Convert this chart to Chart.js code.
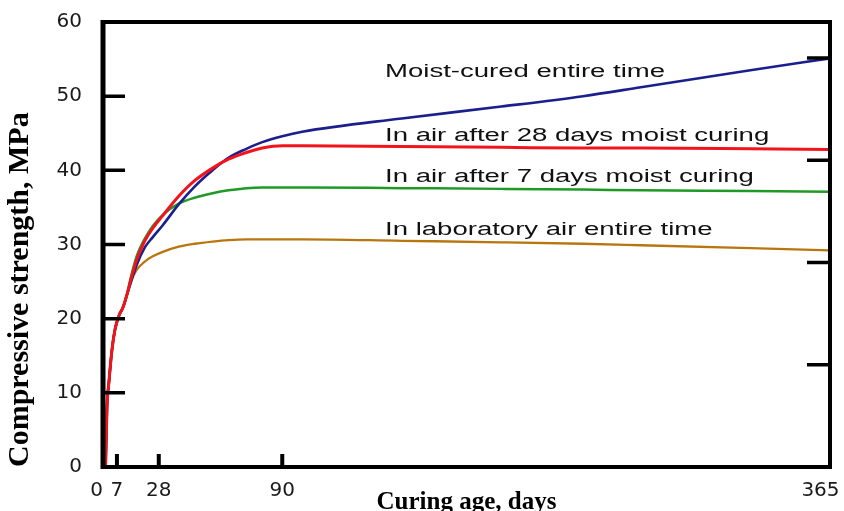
<!DOCTYPE html>
<html>
<head>
<meta charset="utf-8">
<title>Compressive strength vs. curing age</title>
<script src="https://cdn.jsdelivr.net/npm/chart.js@4.4.1/dist/chart.umd.min.js"></script>
<style>
    html, body { margin: 0; padding: 0; background: #fff; overflow: hidden; }
    #wrap { width: 844px; height: 511px; overflow: hidden; }
</style>
</head>
<body>
<div id="wrap"><canvas id="strengthChart" width="844" height="530"></canvas></div>
<script>
// Values: curing age (days) and strength (MPa)
const curingDays = [1.3, 2, 3, 4.5, 6, 8, 10, 12, 14, 17, 21, 25, 30, 38, 46, 55, 63, 72, 80, 90, 100, 150, 200, 241, 270, 325, 365];
const moistCured = [0, 8, 11.5, 15.8, 18.5, 20.4, 21.5, 23.2, 24.9, 27.3, 29.6, 31.0, 32.6, 35.4, 37.8, 40.0, 41.7, 42.9, 43.8, 44.6, 45.2, 47.0, 48.6, 50.0, 51.2, 53.5, 55.1];
const airAfter28 = [0, 8, 11.5, 15.8, 18.5, 20.4, 21.5, 23.2, 25.3, 28.0, 30.5, 32.2, 33.9, 36.5, 38.6, 40.3, 41.5, 42.4, 43.0, 43.3, 43.3, 43.2, 43.1, 43.0, 43.0, 42.9, 42.8];
const airAfter7 = [0, 8, 11.5, 15.8, 18.5, 20.4, 21.5, 23.2, 25.6, 28.5, 30.8, 32.5, 34.0, 35.5, 36.3, 36.9, 37.3, 37.6, 37.7, 37.7, 37.7, 37.6, 37.5, 37.4, 37.3, 37.2, 37.1];
const labAir = [0, 8, 11.5, 15.8, 18.5, 20.4, 21.5, 23.2, 25.0, 26.6, 27.7, 28.4, 29.0, 29.7, 30.1, 30.4, 30.6, 30.7, 30.7, 30.7, 30.7, 30.5, 30.3, 30.1, 29.9, 29.5, 29.2];

const xTickDays = [0, 7, 28, 90, 365];
const psiTicks = [2000, 4000, 6000, 8000]; // unlabelled ticks on the right axis
const curveNames = [
    'Moist-cured entire time',
    'In air after 28 days moist curing',
    'In air after 7 days moist curing',
    'In laboratory air entire time'
];

const MPA_TO_PSI = 145.038;

function toPoints(values) {
    return curingDays.map((d, i) => ({ x: d, y: values[i] }));
}

// Box around the plot plus short inward tick marks
const framePlugin = {
    id: 'frame',
    afterDatasetsDraw(chart) {
        const { ctx, chartArea: a, scales } = chart;
        ctx.save();
        ctx.strokeStyle = '#000';
        ctx.lineCap = 'butt';

        ctx.lineWidth = 4;
        ctx.strokeRect(a.left, a.top, a.right - a.left, a.bottom - a.top);
        ctx.lineWidth = 5;
        ctx.beginPath();
        ctx.moveTo(a.left, a.top - 2);
        ctx.lineTo(a.left, a.bottom + 2);
        ctx.stroke();

        ctx.lineWidth = 3.5;
        ctx.beginPath();
        scales.y.ticks.forEach(t => {
            if (t.value <= scales.y.min || t.value >= scales.y.max) return;
            const py = scales.y.getPixelForValue(t.value);
            ctx.moveTo(a.left, py);
            ctx.lineTo(a.left + 22, py);
        });
        scales.y2.ticks.forEach(t => {
            const py = scales.y2.getPixelForValue(t.value);
            ctx.moveTo(a.right, py);
            ctx.lineTo(a.right - 23, py);
        });
        ctx.stroke();

        ctx.lineWidth = 4;
        ctx.beginPath();
        scales.x.ticks.forEach(t => {
            if (t.value <= scales.x.min || t.value >= scales.x.max) return;
            const px = scales.x.getPixelForValue(t.value);
            ctx.moveTo(px, a.bottom);
            ctx.lineTo(px, a.bottom - 13);
        });
        ctx.stroke();
        ctx.restore();
    }
};

// Curve names written next to the lines (the figure's text is stretched wide)
const curveLabelPlugin = {
    id: 'curveLabels',
    afterDatasetsDraw(chart, args, opts) {
        const { ctx, scales: { x, y } } = chart;
        ctx.save();
        ctx.font = opts.font;
        ctx.fillStyle = opts.color;
        ctx.textBaseline = 'alphabetic';
        opts.anchors.forEach((pos, i) => {
            ctx.save();
            ctx.translate(x.getPixelForValue(pos.day), y.getPixelForValue(pos.mpa));
            ctx.scale(opts.stretch, 1);
            ctx.fillText(curveNames[i], 0, 0);
            ctx.restore();
        });
        ctx.restore();
    }
};

const tickFont = { family: 'DejaVu Sans', size: 20 };

new Chart(document.getElementById('strengthChart'), {
    type: 'line',
    data: {
        datasets: [
            { label: curveNames[0], data: toPoints(moistCured), borderColor: '#1b1f8c', borderWidth: 2.6, order: 1 },
            { label: curveNames[1], data: toPoints(airAfter28), borderColor: '#f2141c', borderWidth: 3, order: 0 },
            { label: curveNames[2], data: toPoints(airAfter7), borderColor: '#1f9a26', borderWidth: 2.5, order: 2 },
            { label: curveNames[3], data: toPoints(labAir), borderColor: '#b9760f', borderWidth: 2.3, order: 3 }
        ]
    },
    options: {
        responsive: false,
        animation: false,
        devicePixelRatio: 1,
        layout: { padding: { top: 22, left: 0, right: 0, bottom: 0 } },
        elements: {
            point: { radius: 0 },
            line: { cubicInterpolationMode: 'monotone', fill: false }
        },
        plugins: {
            legend: { display: false },
            tooltip: { enabled: false },
            curveLabels: {
                font: '18px "Liberation Sans"',
                color: '#111',
                stretch: 1.53,
                anchors: [
                    { day: 141.6, mpa: 52.6 },
                    { day: 141.6, mpa: 43.9 },
                    { day: 141.6, mpa: 38.4 },
                    { day: 141.6, mpa: 31.3 }
                ]
            }
        },
        scales: {
            x: {
                type: 'linear',
                min: 0,
                max: 365,
                afterBuildTicks: s => { s.ticks = xTickDays.map(v => ({ value: v })); },
                afterFit: s => { s.height = 63; s.paddingLeft = 0; s.paddingRight = 0; },
                grid: { display: false, drawTicks: false },
                border: { display: false },
                ticks: {
                    autoSkip: false,
                    maxRotation: 0,
                    padding: 12,
                    color: '#1a1a1a',
                    font: tickFont,
                    // trailing spaces pull the end labels left, as in the figure
                    callback: v => (v === 365 ? '365   ' : v === 0 ? '0  ' : String(v))
                },
                title: {
                    display: true,
                    text: 'Curing age, days',
                    color: '#000',
                    font: { family: 'Liberation Serif', size: 25, weight: 'bold' },
                    padding: { top: 0, bottom: 12 }
                }
            },
            y: {
                min: 0,
                max: 60,
                afterFit: s => { s.width = 103; s.paddingTop = 0; s.paddingBottom = 0; },
                grid: { display: false, drawTicks: false },
                border: { display: false },
                ticks: { stepSize: 10, padding: 21, color: '#1a1a1a', font: tickFont },
                title: {
                    display: true,
                    text: 'Compressive strength, MPa',
                    align: 'start',
                    color: '#000',
                    font: { family: 'Liberation Serif', size: 30, weight: 'bold' },
                    padding: { top: 2, bottom: 0 }
                }
            },
            y2: {
                position: 'right',
                min: 0,
                max: 60 * MPA_TO_PSI,
                afterBuildTicks: s => { s.ticks = psiTicks.map(v => ({ value: v })); },
                afterFit: s => { s.width = 14; s.paddingTop = 0; s.paddingBottom = 0; },
                grid: { display: false, drawTicks: false },
                border: { display: false },
                ticks: { display: false }
            }
        }
    },
    plugins: [framePlugin, curveLabelPlugin]
});
</script>
</body>
</html>
